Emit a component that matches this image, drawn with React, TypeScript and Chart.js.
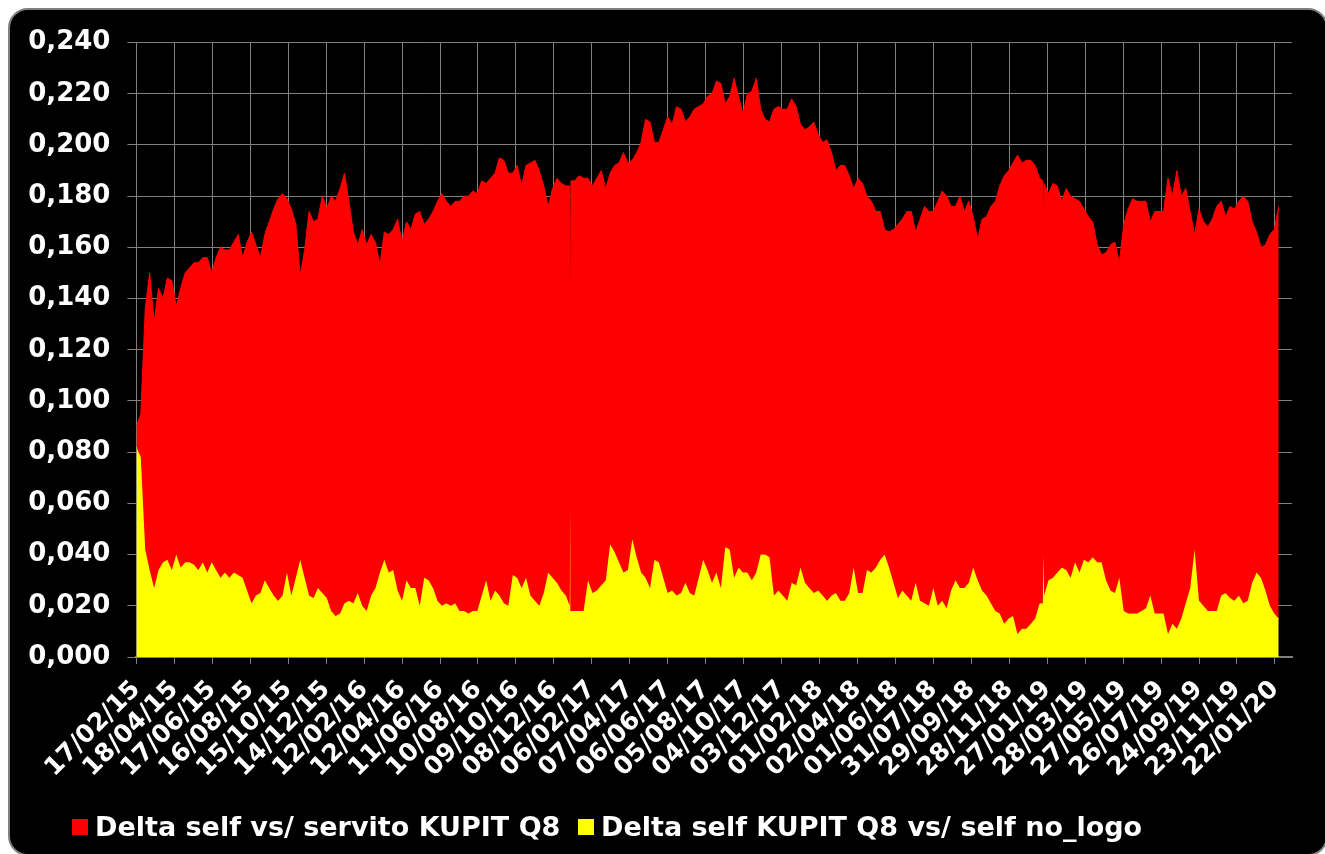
import React, { useEffect, useRef } from 'react';
import { Chart, registerables } from 'chart.js';

Chart.register(...registerables);

// X axis: day offsets from 17/02/15, one tick label every 60 days
const xTickLabels = [
  '17/02/15', '18/04/15', '17/06/15', '16/08/15', '15/10/15', '14/12/15',
  '12/02/16', '12/04/16', '11/06/16', '10/08/16', '09/10/16', '08/12/16',
  '06/02/17', '07/04/17', '06/06/17', '05/08/17', '04/10/17', '03/12/17',
  '01/02/18', '02/04/18', '01/06/18', '31/07/18', '29/09/18', '28/11/18',
  '27/01/19', '28/03/19', '27/05/19', '26/07/19', '24/09/19', '23/11/19',
  '22/01/20',
];
const TICK_STEP_DAYS = 60;
const SAMPLE_STEP_DAYS = 7;
const X_MAX_DAYS = 1827;

const yTickValues = [0, 0.02, 0.04, 0.06, 0.08, 0.1, 0.12, 0.14, 0.16, 0.18, 0.2, 0.22, 0.24];

const seriesLabels = ['Delta self vs/ servito KUPIT Q8', 'Delta self KUPIT Q8 vs/ self no_logo'];
const seriesColors = ['#FF0000', '#FFFF00'];

// Weekly readings (day = index * 7)
const redValues = [
  0.090, 0.095, 0.136, 0.150, 0.131, 0.144, 0.140, 0.148, 0.147, 0.137,
  0.144, 0.150, 0.152, 0.154, 0.154, 0.156, 0.156, 0.150, 0.156, 0.160,
  0.159, 0.159, 0.162, 0.165, 0.156, 0.162, 0.166, 0.161, 0.156, 0.165,
  0.170, 0.175, 0.179, 0.181, 0.179, 0.175, 0.169, 0.149, 0.159, 0.174,
  0.170, 0.171, 0.180, 0.175, 0.180, 0.178, 0.183, 0.189, 0.178, 0.166,
  0.161, 0.167, 0.161, 0.165, 0.162, 0.153, 0.166, 0.165, 0.167, 0.171,
  0.162, 0.170, 0.167, 0.173, 0.174, 0.169, 0.171, 0.174, 0.178, 0.181,
  0.178, 0.176, 0.178, 0.178, 0.180, 0.180, 0.182, 0.181, 0.186, 0.185,
  0.187, 0.189, 0.195, 0.194, 0.189, 0.189, 0.192, 0.184, 0.192, 0.193,
  0.194, 0.190, 0.184, 0.176, 0.183, 0.187, 0.185, 0.184, 0.146, 0.186,
  0.188, 0.187, 0.187, 0.184, 0.187, 0.190, 0.183, 0.189, 0.192, 0.193,
  0.197, 0.193, 0.194, 0.197, 0.201, 0.210, 0.209, 0.201, 0.201, 0.206,
  0.211, 0.208, 0.215, 0.214, 0.209, 0.211, 0.214, 0.215, 0.216, 0.219,
  0.220, 0.225, 0.224, 0.216, 0.219, 0.226, 0.219, 0.212, 0.220, 0.221,
  0.226, 0.214, 0.210, 0.209, 0.214, 0.215, 0.214, 0.214, 0.218, 0.215,
  0.208, 0.206, 0.207, 0.209, 0.204, 0.201, 0.202, 0.197, 0.190, 0.192,
  0.192, 0.188, 0.183, 0.187, 0.185, 0.180, 0.178, 0.174, 0.174, 0.167,
  0.166, 0.167, 0.169, 0.171, 0.174, 0.174, 0.166, 0.171, 0.176, 0.174,
  0.174, 0.178, 0.182, 0.180, 0.176, 0.176, 0.180, 0.174, 0.178, 0.172,
  0.163, 0.171, 0.172, 0.176, 0.178, 0.184, 0.188, 0.190, 0.193, 0.196,
  0.193, 0.194, 0.194, 0.192, 0.187, 0.185, 0.181, 0.185, 0.184, 0.178,
  0.183, 0.180, 0.179, 0.178, 0.175, 0.172, 0.170, 0.161, 0.157, 0.158,
  0.161, 0.162, 0.154, 0.169, 0.175, 0.179, 0.178, 0.178, 0.178, 0.170,
  0.174, 0.174, 0.174, 0.187, 0.180, 0.190, 0.180, 0.183, 0.174, 0.165,
  0.175, 0.170, 0.168, 0.171, 0.176, 0.178, 0.172, 0.176, 0.175, 0.178,
  0.180, 0.178, 0.170, 0.166, 0.160, 0.161, 0.165, 0.167, 0.176,
];

const yellowValues = [
  0.082, 0.078, 0.042, 0.034, 0.027, 0.034, 0.037, 0.038, 0.034, 0.040,
  0.035, 0.037, 0.037, 0.036, 0.034, 0.037, 0.033, 0.037, 0.034, 0.031,
  0.033, 0.031, 0.033, 0.032, 0.031, 0.026, 0.021, 0.024, 0.025, 0.030,
  0.027, 0.024, 0.022, 0.024, 0.033, 0.024, 0.031, 0.038, 0.031, 0.024,
  0.023, 0.027, 0.025, 0.023, 0.018, 0.016, 0.017, 0.021, 0.022, 0.021,
  0.025, 0.020, 0.018, 0.024, 0.027, 0.033, 0.038, 0.033, 0.034, 0.026,
  0.022, 0.030, 0.027, 0.027, 0.020, 0.031, 0.030, 0.027, 0.022, 0.020,
  0.021, 0.020, 0.021, 0.018, 0.018, 0.017, 0.018, 0.018, 0.024, 0.030,
  0.022, 0.026, 0.024, 0.021, 0.020, 0.032, 0.031, 0.027, 0.031, 0.024,
  0.022, 0.020, 0.025, 0.033, 0.031, 0.029, 0.026, 0.024, 0.059, 0.018,
  0.018, 0.018, 0.030, 0.025, 0.026, 0.028, 0.030, 0.044, 0.041, 0.037,
  0.033, 0.034, 0.046, 0.039, 0.033, 0.031, 0.027, 0.038, 0.037, 0.031,
  0.025, 0.026, 0.024, 0.025, 0.029, 0.025, 0.024, 0.031, 0.038, 0.034,
  0.029, 0.033, 0.027, 0.043, 0.042, 0.031, 0.035, 0.033, 0.033, 0.030,
  0.033, 0.040, 0.040, 0.039, 0.024, 0.026, 0.024, 0.022, 0.029, 0.028,
  0.035, 0.029, 0.027, 0.025, 0.026, 0.024, 0.022, 0.024, 0.025, 0.022,
  0.022, 0.025, 0.035, 0.025, 0.025, 0.034, 0.033, 0.035, 0.038, 0.040,
  0.035, 0.029, 0.023, 0.026, 0.024, 0.022, 0.029, 0.022, 0.021, 0.020,
  0.027, 0.020, 0.022, 0.019, 0.026, 0.030, 0.027, 0.027, 0.029, 0.035,
  0.030, 0.026, 0.024, 0.021, 0.018, 0.017, 0.013, 0.015, 0.016, 0.009,
  0.011, 0.011, 0.013, 0.015, 0.021, 0.024, 0.030, 0.031, 0.033, 0.035,
  0.034, 0.031, 0.037, 0.033, 0.038, 0.037, 0.039, 0.037, 0.037, 0.030,
  0.026, 0.025, 0.031, 0.018, 0.017, 0.017, 0.017, 0.018, 0.019, 0.024,
  0.017, 0.017, 0.017, 0.009, 0.013, 0.011, 0.015, 0.021, 0.027, 0.042,
  0.022, 0.020, 0.018, 0.018, 0.018, 0.024, 0.025, 0.023, 0.022, 0.024,
  0.021, 0.022, 0.029, 0.033, 0.031, 0.026, 0.020, 0.017, 0.015,
];

// Extra daily readings around the two one-day spikes
const extraDays = [685, 687, 1433, 1434];
const extraRed = [0.184, 0.186, 0.186, 0.167];
const extraYellow = [0.020, 0.018, 0.021, 0.040];

const FONT_FAMILY = '"DejaVu Sans", Verdana, sans-serif';

function buildPoints(values: number[], extras: number[]) {
  const pts = values.map((v, i) => ({ x: i * SAMPLE_STEP_DAYS, y: v }));
  extraDays.forEach((d, j) => pts.push({ x: d, y: extras[j] }));
  pts.sort((a, b) => a.x - b.x);
  return pts;
}

export default function App() {
  const canvasRef = useRef<HTMLCanvasElement | null>(null);

  useEffect(() => {
    const canvas = canvasRef.current;
    if (!canvas) return;
    const gridColor = '#808080';
    const yFont = { family: FONT_FAMILY, weight: 'bold' as const, size: 26 };
    const xFont = { family: FONT_FAMILY, weight: 'bold' as const, size: 25 };
    const chart = new Chart(canvas, {
      type: 'line',
      data: {
        datasets: [
          {
            label: seriesLabels[0],
            data: buildPoints(redValues, extraRed),
            backgroundColor: seriesColors[0],
            borderColor: seriesColors[0],
            borderWidth: 1,
            pointRadius: 0,
            fill: '+1',
            tension: 0,
          },
          {
            label: seriesLabels[1],
            data: buildPoints(yellowValues, extraYellow),
            backgroundColor: seriesColors[1],
            borderColor: seriesColors[1],
            borderWidth: 1,
            pointRadius: 0,
            fill: 'origin',
            tension: 0,
          },
        ],
      },
      options: {
        animation: false,
        responsive: false,
        layout: { padding: { left: 0, top: 29, right: 34, bottom: 0 } },
        plugins: {
          legend: { display: false },
          tooltip: { enabled: false },
        },
        scales: {
          x: {
            type: 'linear',
            min: 0,
            max: X_MAX_DAYS,
            afterBuildTicks: (scale: any) => {
              scale.ticks = xTickLabels.map((_, i) => ({ value: i * TICK_STEP_DAYS }));
            },
            afterFit: (scale: any) => {
              scale.height = 197;
            },
            ticks: {
              autoSkip: false,
              minRotation: 45,
              maxRotation: 45,
              color: '#FFFFFF',
              font: xFont,
              padding: 11,
              callback: (_v: any, i: number) => xTickLabels[i],
            },
            grid: { color: gridColor, lineWidth: 1, tickLength: 7, drawTicks: true },
            border: { color: gridColor, width: 2 },
          },
          y: {
            min: 0,
            max: 0.24,
            afterBuildTicks: (scale: any) => {
              scale.ticks = yTickValues.map((v) => ({ value: v }));
            },
            afterFit: (scale: any) => {
              scale.width = 126.4;
            },
            ticks: {
              color: '#FFFFFF',
              font: yFont,
              padding: 17,
              callback: (v: any) => Number(v).toFixed(3).replace('.', ','),
            },
            grid: { color: gridColor, lineWidth: 1, tickLength: 9, drawTicks: true },
            border: { color: gridColor, width: 1 },
          },
        },
      },
    });
    return () => chart.destroy();
  }, []);

  const legendText: React.CSSProperties = {
    color: '#FFFFFF',
    fontFamily: FONT_FAMILY,
    fontWeight: 'bold',
    fontSize: 27,
    lineHeight: '24px',
    whiteSpace: 'nowrap',
  };
  const legendItem = (left: number): React.CSSProperties => ({
    position: 'absolute',
    left,
    top: 805,
    height: 24,
    display: 'flex',
    alignItems: 'center',
  });
  const swatch = (color: string): React.CSSProperties => ({
    width: 16,
    height: 16,
    background: color,
    marginRight: 7,
    flex: '0 0 auto',
  });

  return (
    <div
      style={{
        position: 'fixed',
        left: 8,
        top: 8,
        width: 1320,
        height: 848,
        boxSizing: 'border-box',
        border: '2px solid #808080',
        borderRadius: 20,
        background: '#000000',
        overflow: 'hidden',
      }}
    >
      <canvas
        ref={canvasRef}
        width={1316}
        height={844}
        style={{ display: 'block', position: 'absolute', left: 0, top: 0 }}
      />
      <div style={legendItem(62)}>
        <div style={swatch(seriesColors[0])} />
        <span style={legendText}>{seriesLabels[0]}</span>
      </div>
      <div style={legendItem(568)}>
        <div style={swatch(seriesColors[1])} />
        <span style={legendText}>{seriesLabels[1]}</span>
      </div>
    </div>
  );
}
